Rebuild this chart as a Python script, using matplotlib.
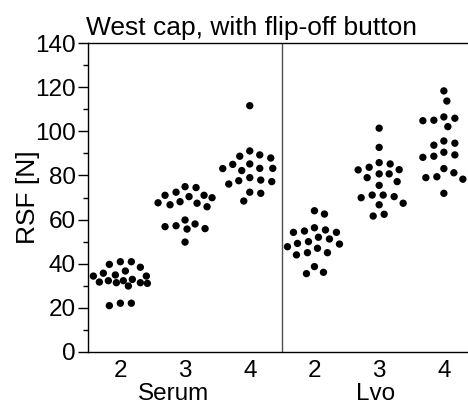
import matplotlib
matplotlib.use("Agg")
import matplotlib.pyplot as plt
import matplotlib.transforms as mtransforms
import numpy as np

plt.rcParams['font.family'] = ['Liberation Sans', 'DejaVu Sans']

# RSF values [N], per group
serum_2 = [32.3, 36.7, 38.4, 39.7, 34.9, 35.7, 40.9, 40.9, 31.4, 29.9,
           32.3, 34.4, 34.4, 31.7, 31.1, 32.9, 31.4, 22.1, 22.1, 21.0]
serum_3 = [70.4, 74.5, 66.7, 68.1, 71.0, 65.8, 71.0, 67.6, 74.9, 67.4,
           72.4, 69.9, 57.2, 56.8, 55.9, 55.7, 59.8, 58.0, 49.8]
serum_4 = [111.6, 91.1, 89.3, 87.9, 88.7, 85.2, 83.1, 82.2, 85.0, 83.2,
           83.2, 79.0, 77.9, 77.6, 76.1, 77.2, 72.4, 71.9, 68.4]
lvo_2 = [62.5, 64.0, 55.3, 54.8, 54.2, 56.3, 54.2, 52.0, 51.2, 49.2,
         50.0, 48.9, 47.7, 47.0, 44.0, 45.0, 45.0, 36.1, 38.7, 35.5]
lvo_3 = [101.4, 92.7, 83.7, 85.8, 82.6, 80.7, 85.2, 79.0, 82.5, 80.7,
         75.5, 77.2, 71.1, 71.1, 70.4, 69.9, 67.4, 66.7, 62.4, 61.6]
lvo_4 = [118.3, 113.7, 102.1, 105.0, 106.5, 105.9, 104.8, 93.7, 94.6, 95.6,
         90.5, 89.3, 88.2, 88.7, 83.1, 81.2, 79.4, 79.0, 78.3, 71.9]

groups = [serum_2, serum_3, serum_4, lvo_2, lvo_3, lvo_4]
tick_labels = ['2', '3', '4', '2', '3', '4']
sample_names = ['Serum', 'Lvo']

fig = plt.figure(figsize=(4.68, 4.04), dpi=100)
ax = fig.add_axes([88 / 468, 1 - 352 / 404, 380 / 468, 309 / 404])

xmin, xmax = 0.5, 6.373
ymin, ymax = 0, 140
px_x = 380 / (xmax - xmin)   # pixels per x unit
px_y = 309 / (ymax - ymin)   # pixels per N


def swarm(values, dmin=10.5, half_width=27):
    """Place points side by side so they don't overlap (pixel space)."""
    order = np.argsort(values)[::-1]
    placed = []
    offsets = np.zeros(len(values))
    cands = [0]
    for k in range(1, half_width + 1):
        cands += [k, -k]
    for i in order:
        yy = values[i] * px_y
        best, best_d = 0, -1
        for c in cands:
            d = min([np.hypot(c - px, yy - py) for px, py in placed] or [1e9])
            if d >= dmin:
                best = c
                break
            if d > best_d:
                best, best_d = c, d
        placed.append((best, yy))
        offsets[i] = best / px_x
    return offsets


for i, vals in enumerate(groups):
    vals = np.array(vals)
    xs = (i + 1) + swarm(vals)
    ax.scatter(xs, vals, s=28, color='black', edgecolors='none', zorder=3)

ax.axvline(3.5, color='#505050', lw=1.0)

ax.set_xlim(xmin, xmax)
ax.set_ylim(ymin, ymax)
ax.set_xticks(range(1, 7))
ax.set_xticklabels(tick_labels, fontsize=17.5)
ax.tick_params(axis='x', length=0, pad=6)
ax.set_yticks(np.arange(0, 141, 20))
ax.set_yticks(np.arange(10, 140, 20), minor=True)
ax.tick_params(axis='y', which='major', length=7, width=1, labelsize=17.5, pad=2)
ax.tick_params(axis='y', which='minor', length=3.5, width=1)
ax.spines['right'].set_visible(False)
for s in ['left', 'top', 'bottom']:
    ax.spines[s].set_linewidth(1.0)

# Serum / Lvo group labels under the tick labels
trans = mtransforms.blended_transform_factory(ax.transData, fig.transFigure)
for xc, name in zip([1.82, 4.94], sample_names):
    ax.text(xc, 1 - 400 / 404, name, transform=trans,
            ha='center', va='baseline', fontsize=17.5)

ax.set_ylabel('RSF [N]', fontsize=19, labelpad=-4)
fig.text(86 / 468, 1 - 35 / 404, 'West cap, with flip-off button',
         ha='left', va='baseline', fontsize=19)

fig.savefig('out.png', dpi=100)
